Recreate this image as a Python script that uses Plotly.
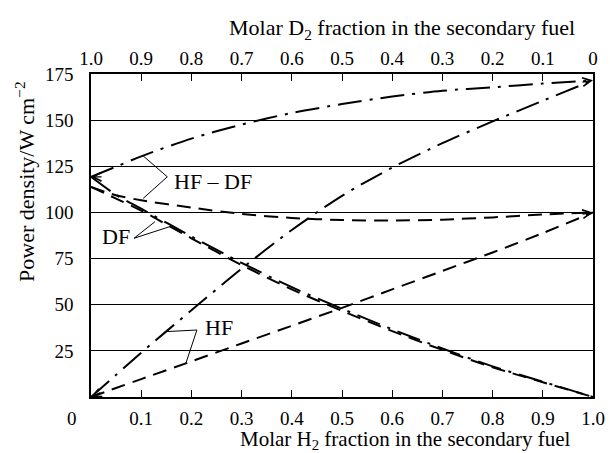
import plotly.graph_objects as go

# ---- data ----
h2_fraction = [0, 0.05, 0.1, 0.2, 0.3, 0.4, 0.5, 0.6, 0.7, 0.8, 0.9, 1.0]
d2_fraction = [round(1 - v, 2) for v in h2_fraction]

hf_dashdot = [0, 12.0, 24.0, 47.0, 69.5, 90.5, 109.0, 124.3, 137.5, 149.3, 160.5, 171.6]
hf_dashed = [0, 4.9, 9.7, 19.3, 29.0, 38.6, 48.3, 58.3, 68.3, 78.3, 88.8, 100.0]
df_dashdot = [119.3, 109.5, 102.0, 87.0, 72.7, 59.5, 47.8, 36.7, 26.3, 16.6, 8.3, 0]
df_dashed = [113.8, 107.5, 101.0, 86.0, 71.5, 58.3, 46.7, 35.7, 25.5, 16.1, 8.0, 0]
hfdf_dashdot = [119.3, 124.8, 130.4, 140.0, 147.6, 153.9, 158.7, 162.8, 165.9, 167.8, 169.8, 171.6]
hfdf_dashed = [113.8, 109.3, 106.6, 102.6, 99.2, 97.0, 95.9, 95.6, 96.1, 97.3, 98.9, 100.0]

bottom_ticks = [0.1, 0.2, 0.3, 0.4, 0.5, 0.6, 0.7, 0.8, 0.9, 1.0]
bottom_ticktext = ["0.1", "0.2", "0.3", "0.4", "0.5", "0.6", "0.7", "0.8", "0.9", "1.0"]
top_ticks = [1.0, 0.9, 0.8, 0.7, 0.6, 0.5, 0.4, 0.3, 0.2, 0.1, 0.0]
top_ticktext = ["1.0", "0.9", "0.8", "0.7", "0.6", "0.5", "0.4", "0.3", "0.2", "0.1", "0"]
y_ticks = [25, 50, 75, 100, 125, 150, 175]

FONT = "Liberation Serif, Times New Roman, serif"
DASHDOT = "24px,8px,3px,8px"
DASHED = "14px,8px"
LW = 2.0

fig = go.Figure()

series = [
    (hf_dashdot, DASHDOT),
    (hf_dashed, DASHED),
    (df_dashdot, DASHDOT),
    (df_dashed, DASHED),
    (hfdf_dashdot, DASHDOT),
    (hfdf_dashed, DASHED),
]
for ys, dash in series:
    fig.add_trace(go.Scatter(
        x=h2_fraction, y=ys, mode="lines",
        line=dict(color="black", width=LW, dash=dash, shape="spline", smoothing=0.8),
        showlegend=False, hoverinfo="skip",
    ))

# invisible trace to activate the top (D2 fraction) axis
fig.add_trace(go.Scatter(x=d2_fraction, y=hf_dashed, xaxis="x2", mode="none",
                         showlegend=False, hoverinfo="skip"))

# arrowheads at curve ends
arrow_pts = [
    (h2_fraction[0], hf_dashed[0], 11, -5),
    (h2_fraction[0], df_dashdot[0], 12, 0),
    (h2_fraction[-1], hf_dashdot[-1], -12, 2),
    (h2_fraction[-1], hf_dashed[-1], -12, 2),
]
annotations = []
for x0, y0, ax, ay in arrow_pts:
    annotations.append(dict(x=x0, y=y0, xref="x", yref="y", text="", showarrow=True,
                            ax=ax, ay=ay, arrowhead=5, arrowsize=1.3, arrowwidth=1.3,
                            arrowcolor="black", standoff=0))

# curve labels
label_font = dict(family=FONT, size=22, color="black")
annotations += [
    dict(x=0.161, y=116.6, xref="x", yref="y", text="HF – DF", showarrow=False,
         xanchor="left", yanchor="middle", font=label_font),
    dict(x=0.018, y=86.8, xref="x", yref="y", text="DF", showarrow=False,
         xanchor="left", yanchor="middle", font=label_font),
    dict(x=0.224, y=37.9, xref="x", yref="y", text="HF", showarrow=False,
         xanchor="left", yanchor="middle", font=label_font),
    # axis titles
    dict(x=0.6195, y=1.139, xref="paper", yref="paper",
         text="Molar D<sub>2</sub> fraction in the secondary fuel", showarrow=False,
         xanchor="center", yanchor="middle", font=label_font),
    dict(x=0.6255, y=-0.133, xref="paper", yref="paper",
         text="Molar H<sub>2</sub> fraction in the secondary fuel", showarrow=False,
         xanchor="center", yanchor="middle", font=dict(family=FONT, size=21, color="black")),
    dict(x=-0.1315, y=0.669, xref="paper", yref="paper",
         text="Power density/W cm<sup>−2</sup>", showarrow=False, textangle=-90,
         xanchor="center", yanchor="middle", font=label_font),
    dict(x=-0.038, y=-0.068, xref="paper", yref="paper", text="0", showarrow=False,
         xanchor="center", yanchor="middle", font=dict(family=FONT, size=19, color="black")),
]

# leader lines
leaders = [
    [(0.104, 130.6), (0.152, 119.3), (0.104, 107.6)],
    [(0.1275, 95.0), (0.0857, 86.0), (0.159, 92.5)],
    [(0.147, 35.4), (0.211, 36.3), (0.189, 18.3)],
]
shapes = []
for pts in leaders:
    path = "M {} {} L {} {} L {} {}".format(pts[0][0], pts[0][1], pts[1][0], pts[1][1],
                                            pts[2][0], pts[2][1])
    shapes.append(dict(type="path", path=path, xref="x", yref="y",
                       line=dict(color="black", width=1)))

tickfont = dict(family=FONT, size=19, color="black")
fig.update_layout(
    width=610, height=453,
    margin=dict(l=91, r=17, t=74, b=56),
    paper_bgcolor="white", plot_bgcolor="white",
    font=dict(family=FONT, color="black"),
    showlegend=False,
    annotations=annotations,
    shapes=shapes,
    xaxis=dict(range=[0, 1], tickvals=bottom_ticks, ticktext=bottom_ticktext,
               ticks="inside", ticklen=7, tickwidth=1.2, tickcolor="black",
               showline=True, linecolor="black", linewidth=1.5,
               showgrid=False, zeroline=False, tickfont=tickfont,
               ticklabelstandoff=3, automargin=False),
    xaxis2=dict(range=[1, 0], overlaying="x", side="top", anchor="y",
                tickvals=top_ticks, ticktext=top_ticktext,
                ticks="inside", ticklen=7, tickwidth=1.2, tickcolor="black",
                showline=True, linecolor="black", linewidth=1.5,
                showgrid=False, zeroline=False, tickfont=tickfont,
                ticklabelstandoff=0, automargin=False),
    yaxis=dict(range=[0, 175], tickvals=y_ticks,
               showgrid=True, gridcolor="black", gridwidth=1.2,
               showline=True, mirror=True, linecolor="black", linewidth=1.5,
               ticks="", zeroline=False, tickfont=tickfont,
               ticklabelstandoff=12, automargin=False),
)

# remove the default page margin so the figure fills the 610x453 window exactly
fig.write_html("out.html",
               config={"displayModeBar": False},
               post_script="document.body.style.margin='0';document.body.style.overflow='hidden';")
